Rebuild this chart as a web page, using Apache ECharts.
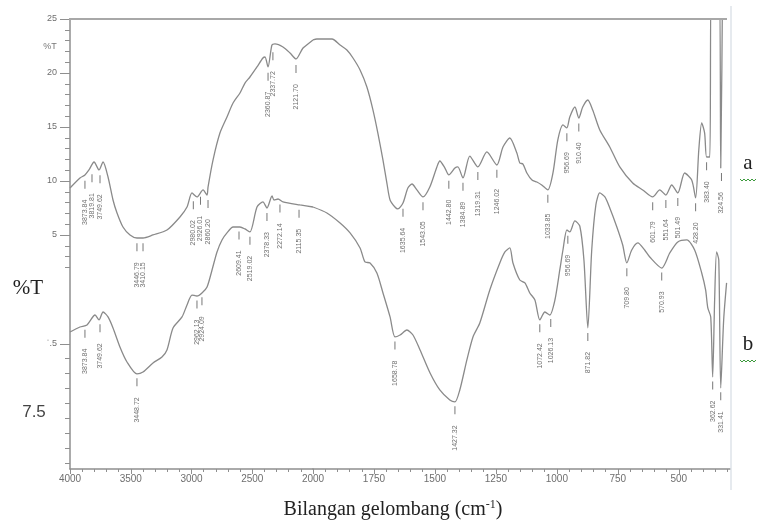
<!DOCTYPE html>
<html><head><meta charset="utf-8">
<script src="https://cdn.jsdelivr.net/npm/echarts@6/dist/echarts.min.js"></script>
<style>html,body{margin:0;padding:0;background:#fff}#c{width:757px;height:529px}</style>
</head><body><div id="c"></div>
<script>
// ---- data (wavenumber cm-1, %T in the chart's axis units) ----
const aWave=[4000,3918,3877,3844,3802,3761,3728,3687,3646,3613,3564,3506,3449,3399,3317,3202,3095,3037,2996,2955,2905,2872,2864,2823,2766,2708,2658,2601,2560,2519,2461,2412,2395,2370,2338,2313,2247,2189,2140,2082,2000,1984,1922,1889,1861,1836,1807,1779,1754,1734,1713,1697,1684,1664,1652,1631,1611,1594,1574,1549,1521,1492,1480,1459,1443,1418,1406,1385,1357,1324,1287,1246,1221,1193,1164,1152,1139,1123,1102,1082,1062,1037,1016,996,975,959,947,926,910,894,873,853,824,783,742,689,648,607,578,553,529,504,476,447,431,418,406,394,386,373,365,336,328,320];
const aT=[9.35,10.28,10.56,11.02,11.76,11.02,11.76,10.37,8.24,7.04,5.74,5.0,4.72,4.72,5.0,5.46,6.67,7.59,8.89,8.52,9.17,8.70,9.44,11.94,14.44,15.93,17.22,18.15,19.07,19.63,20.56,21.39,21.48,20.56,22.59,22.69,22.41,21.85,21.30,22.31,23.06,23.15,23.15,22.59,22.13,21.39,20.28,18.70,16.57,14.44,11.94,9.81,8.24,7.59,7.41,7.96,9.35,9.72,9.17,8.52,9.44,11.30,11.85,11.20,10.56,11.20,11.30,10.28,12.31,11.30,12.69,11.48,13.15,13.98,12.59,11.67,11.57,10.74,10.09,9.91,9.63,9.17,10.74,13.80,15.19,14.91,15.93,16.85,15.83,16.85,17.5,16.57,14.72,13.15,11.30,9.81,9.17,8.52,9.17,8.70,9.63,8.89,10.74,10.09,8.43,12.87,15.37,14.44,12.22,12.22,30,30,11.2,30];
const bWave=[4000,3918,3860,3794,3761,3728,3687,3646,3589,3531,3449,3399,3317,3243,3202,3152,3078,3037,2996,2955,2914,2872,2831,2790,2749,2708,2658,2601,2560,2519,2461,2412,2379,2337,2321,2288,2247,2107,2000,1943,1889,1848,1807,1787,1766,1738,1713,1684,1664,1643,1615,1590,1561,1520,1480,1439,1418,1398,1369,1344,1316,1275,1234,1213,1193,1180,1152,1131,1111,1090,1070,1049,1029,1008,988,975,959,947,926,906,889,873,857,840,824,803,783,754,730,713,693,668,640,619,570,537,504,467,435,406,390,381,369,361,353,345,336,328,316,304];
const bT=[-3.98,-3.52,-3.33,-2.41,-2.87,-2.13,-2.59,-3.61,-5.37,-6.76,-7.87,-7.69,-6.85,-6.30,-5.65,-3.61,-2.59,-1.48,-0.56,-0.65,-0.37,0.19,1.76,3.43,4.54,5.19,5.74,5.74,5.56,5.28,7.59,8.06,7.50,8.61,8.24,8.33,8.06,7.78,7.59,7.04,6.11,5.19,3.80,2.50,2.41,1.48,-0.37,-2.59,-4.44,-4.26,-3.80,-4.26,-5.65,-7.78,-9.35,-10.28,-10.46,-9.35,-6.57,-4.44,-3.15,-0.09,2.41,3.43,3.80,2.41,0.83,0.56,-0.37,-1.02,-2.87,-2.13,-2.41,-1.02,1.76,3.61,5.46,5.28,6.30,5.83,2.69,-3.61,3.61,7.78,8.89,8.52,7.50,5.74,4.07,2.41,3.61,4.26,3.61,2.96,1.94,3.33,4.35,4.54,3.61,1.48,-0.09,-1.76,-2.59,-8.15,-1.02,3.43,2.69,-9.17,-2.87,0.56];
// peak annotations
const aPeakWave=[3877,3819,3753,3449,3399,2985,2926,2864,2370,2330,2140,1631,1549,1443,1385,1324,1246,1037,959,910,607,553,504,431,386,325];
const aPeakT=[10.4,11.0,10.9,4.6,4.6,8.5,8.9,8.6,20.4,22.3,21.1,7.8,8.4,10.4,10.2,11.2,11.4,9.1,14.8,15.7,8.4,8.6,8.8,8.3,12.1,11.1];
const aPeakLabel=['3873.84','3819.81','3749.62','3446.79','3410.15','2980.02','2926.01','2860.20','2360.87','2337.72','2121.70','1635.64','1543.05','1442.80','1384.89','1319.31','1246.02','1033.85','956.69','910.40','601.79','551.64','501.49','428.20','383.40','324.56'];
const bPeakWave=[3877,3753,3449,2955,2914,2609,2519,2379,2272,2115,1664,1418,1070,1025,955,873,713,570,361,328];
const bPeakT=[-3.4,-2.9,-7.9,-0.7,-0.4,5.7,5.2,7.4,8.2,7.7,-4.5,-10.5,-2.9,-2.4,5.3,-3.7,2.3,1.9,-8.2,-9.2];
const bPeakLabel=['3873.84','3749.62','3448.72','2962.13','2924.09','2609.41','2519.02','2378.33','2272.14','2115.35','1658.78','1427.32','1072.42','1026.13','956.69','871.82','709.80','570.93','362.62','331.41'];
// axis ticks
const xLeftRange=[2000,4000];
const xRightRange=[290,2000];
const xRightMajor=[2000,1750,1500,1250,1000,750,500];
const xRightMinor=[300,350,400,450,550,600,650,700,800,850,900,950,1050,1100,1150,1200,1300,1350,1400,1450,1550,1600,1650,1700,1800,1850,1900,1950];
const yRange=[-16.67,25];
const yMajor=[25,20,15,10,5,-5.09];
const yLabels={'25':'25','20':'20','15':'15','10':'10','5':'5','-5.09':'\u02c8.5'};
const yMinor=[24,23,22,21,19,18,17,16,14,13,12,11,9,8,7,6,4,3,2,-6.39,-7.78,-9.17,-10.56,-11.94,-13.33,-14.72,-16.11];

function pairs(w,v,test){const r=[];for(let i=0;i<w.length;i++){if(test(w[i]))r.push([w[i],v[i]]);}return r;}
const isL=w=>w>=2000, isR=w=>w<=2000;
function peakData(w,v,l,test){const r=[];for(let i=0;i<w.length;i++){if(test(w[i]))r.push({value:[w[i],v[i]],name:l[i]});}return r;}

const chart=echarts.init(document.getElementById('c'),null,{renderer:'canvas'});
const axisCol='#8f8f8f', lineCol='#8a8a8a', lblCol='#6e6e6e';
const G0={left:70,top:19,width:243,height:450};
const G1={left:313,top:19,width:417,height:450};
const plain=v=>String(v);
function lineS(data,xi,yi){return {type:'line',xAxisIndex:xi,yAxisIndex:yi,data:data,symbol:'none',smooth:0.25,clip:true,lineStyle:{color:lineCol,width:1.3},z:3,animation:false};}
function peakS(data,xi,yi){return {type:'scatter',xAxisIndex:xi,yAxisIndex:yi,data:data,symbol:'rect',symbolSize:[1,8],symbolOffset:[0,8],itemStyle:{color:'#555'},
  label:{show:true,position:'bottom',distance:11,rotate:90,align:'right',verticalAlign:'middle',fontSize:7,color:'#4a4a4a',fontFamily:'Liberation Sans',formatter:p=>p.name},z:4,animation:false,silent:true};}

chart.setOption({
  animation:false,
  backgroundColor:'#fff',
  grid:[G0,G1],
  xAxis:[
    {gridIndex:0,type:'value',min:xLeftRange[0],max:xLeftRange[1],interval:500,inverse:true,position:'bottom',
     axisLine:{onZero:false,lineStyle:{color:axisCol,width:1.5}},axisTick:{length:5,lineStyle:{color:axisCol}},
     minorTick:{show:true,splitNumber:5,length:3,lineStyle:{color:axisCol}},splitLine:{show:false},minorSplitLine:{show:false},
     axisLabel:{color:lblCol,fontSize:10,fontFamily:'Liberation Sans',margin:5,formatter:plain}},
    {gridIndex:1,type:'value',min:xRightRange[0],max:xRightRange[1],inverse:true,position:'bottom',
     axisLine:{onZero:false,lineStyle:{color:axisCol,width:1.5}},axisTick:{length:5,customValues:xRightMajor,lineStyle:{color:axisCol}},splitLine:{show:false},
     axisLabel:{color:lblCol,fontSize:10,fontFamily:'Liberation Sans',margin:5,customValues:xRightMajor.slice(1),formatter:plain}},
    {gridIndex:1,type:'value',min:xRightRange[0],max:xRightRange[1],inverse:true,position:'bottom',
     axisLine:{show:false,onZero:false},axisTick:{length:3,customValues:xRightMinor,lineStyle:{color:axisCol}},splitLine:{show:false},
     axisLabel:{show:false}}
  ],
  yAxis:[
    {gridIndex:0,type:'value',min:yRange[0],max:yRange[1],position:'left',
     axisLine:{show:true,onZero:false,lineStyle:{color:axisCol,width:1.5}},axisTick:{show:true,length:10,customValues:yMajor,lineStyle:{color:axisCol}},splitLine:{show:false},
     axisLabel:{color:lblCol,fontSize:9,fontFamily:'Liberation Sans',margin:13,customValues:yMajor,formatter:v=>yLabels[String(v)]||''}},
    {gridIndex:0,type:'value',min:yRange[0],max:yRange[1],position:'left',
     axisLine:{show:false,onZero:false},axisTick:{show:true,length:5,customValues:yMinor,lineStyle:{color:axisCol}},splitLine:{show:false},axisLabel:{show:false}},
    {gridIndex:1,type:'value',min:yRange[0],max:yRange[1],show:false}
  ],
  series:[
    lineS(pairs(aWave,aT,isL),0,0),
    lineS(pairs(aWave,aT,isR),1,2),
    lineS(pairs(bWave,bT,isL),0,0),
    lineS(pairs(bWave,bT,isR),1,2),
    peakS(peakData(aPeakWave,aPeakT,aPeakLabel,w=>w>2000),0,0),
    peakS(peakData(aPeakWave,aPeakT,aPeakLabel,w=>w<=2000),1,2),
    peakS(peakData(bPeakWave,bPeakT,bPeakLabel,w=>w>2000),0,0),
    peakS(peakData(bPeakWave,bPeakT,bPeakLabel,w=>w<=2000),1,2)
  ],
  graphic:[
    {type:'line',shape:{x1:69,y1:19,x2:727,y2:19},style:{stroke:'#a8a8a8',lineWidth:2},z:10},
    {type:'line',shape:{x1:731,y1:6,x2:731,y2:490},style:{stroke:'#cdd5de',lineWidth:1},z:10},
    {type:'text',x:50,y:47,style:{text:'%T',fontSize:9,fontFamily:'Liberation Sans',fill:'#777',align:'center',verticalAlign:'middle'}},
    {type:'text',x:28,y:288,style:{text:'%T',fontSize:21,fontFamily:'Liberation Serif',fill:'#222',align:'center',verticalAlign:'middle'}},
    {type:'text',x:34,y:412,style:{text:'7.5',fontSize:17,fontFamily:'Liberation Sans',fill:'#444',align:'center',verticalAlign:'middle'}},
    {type:'text',x:748,y:163,style:{text:'a',fontSize:21,fontFamily:'Liberation Serif',fill:'#222',align:'center',verticalAlign:'middle'}},
    {type:'text',x:748,y:344,style:{text:'b',fontSize:21,fontFamily:'Liberation Serif',fill:'#222',align:'center',verticalAlign:'middle'}},
    {type:'polyline',shape:{points:[[740,179],[742,181],[744,179],[746,181],[748,179],[750,181],[752,179],[754,181],[756,179]]},style:{stroke:'#3c9a3c',lineWidth:1,fill:null}},
    {type:'polyline',shape:{points:[[740,360],[742,362],[744,360],[746,362],[748,360],[750,362],[752,360],[754,362],[756,360]]},style:{stroke:'#3c9a3c',lineWidth:1,fill:null}},
    {type:'text',x:393,y:510,style:{text:'{a|Bilangan gelombang (cm}{s|-1}{a|)}',align:'center',verticalAlign:'middle',
      rich:{a:{fontSize:20,fontFamily:'Liberation Serif',fill:'#222',color:'#222'},s:{fontSize:12,fontFamily:'Liberation Serif',fill:'#222',color:'#222',verticalAlign:'top',padding:[0,0,10,0]}}}}
  ]
});
</script></body></html>
